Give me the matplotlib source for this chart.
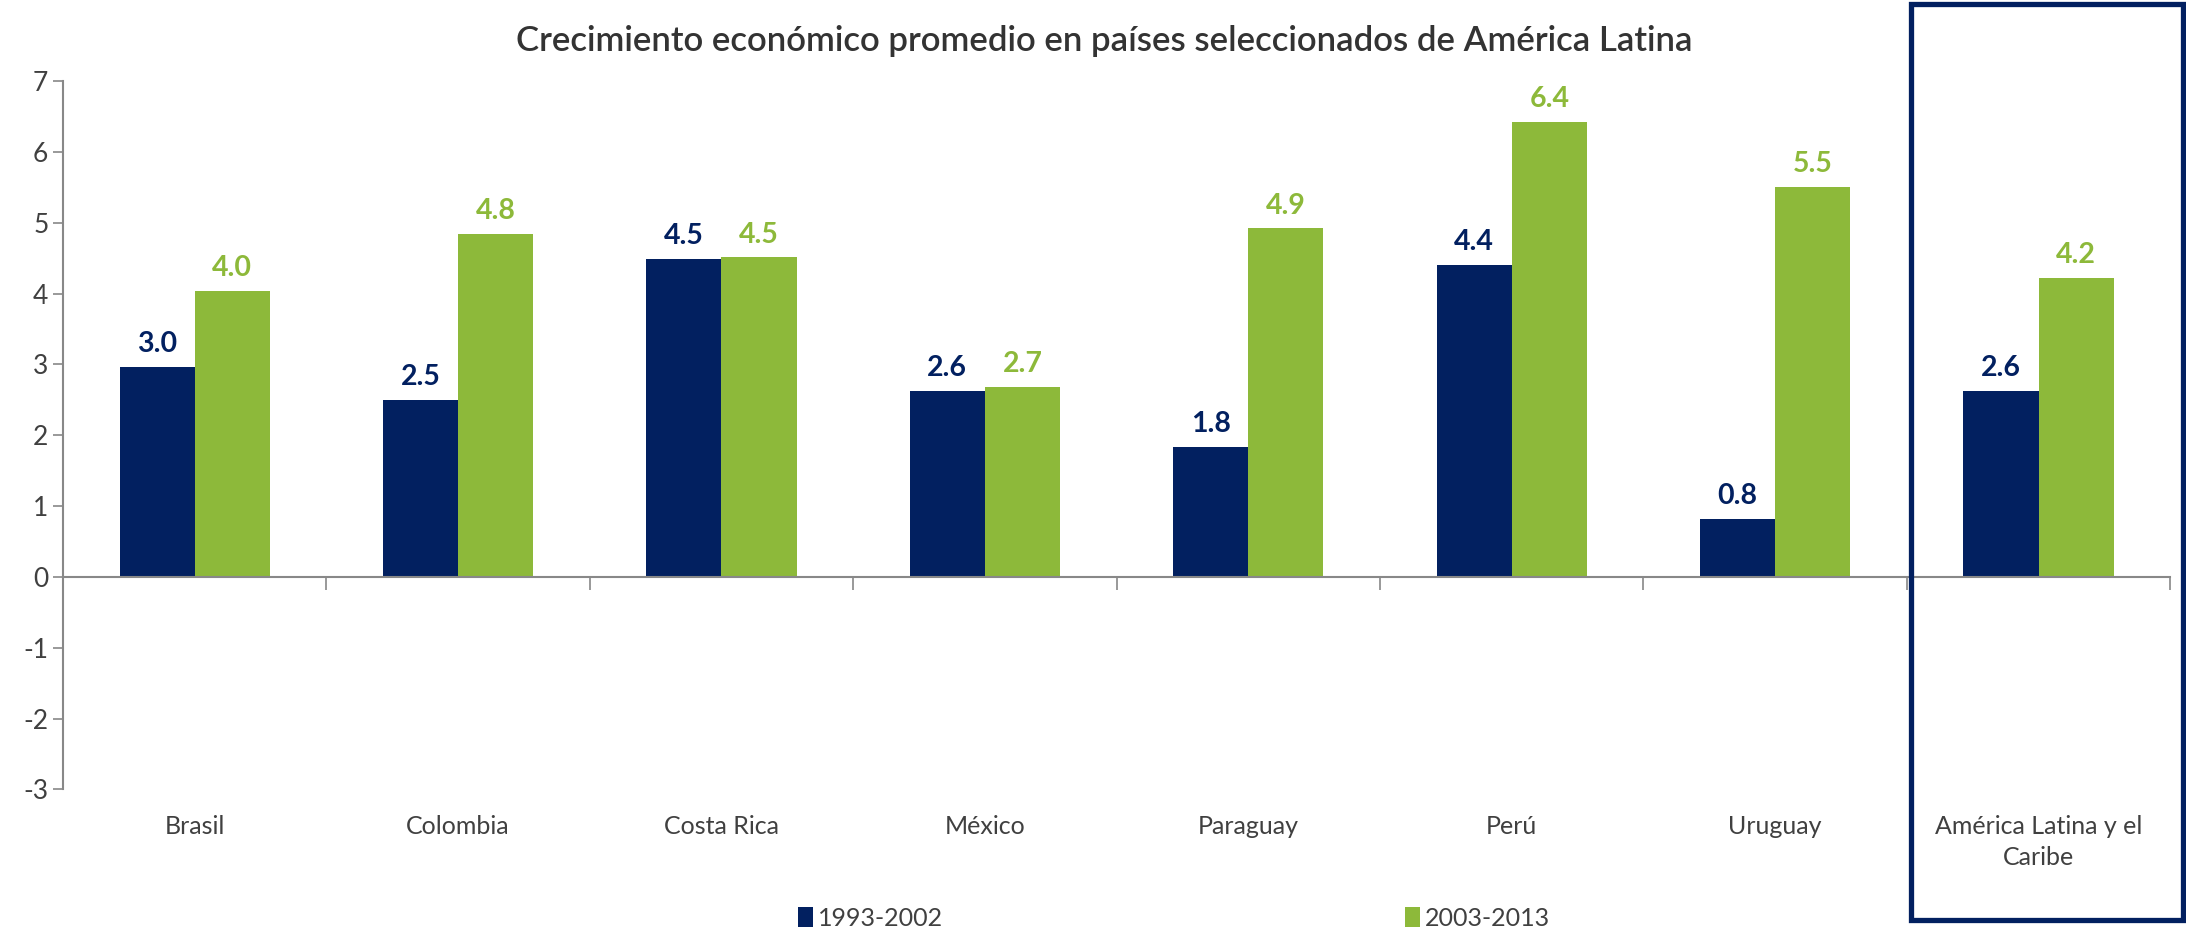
import numpy as np
import matplotlib.pyplot as plt
from matplotlib.patches import Rectangle

# data
paises = ['Brasil', 'Colombia', 'Costa Rica', 'México', 'Paraguay', 'Perú',
          'Uruguay', 'América Latina y el\nCaribe']
periodo_1 = [2.97, 2.50, 4.49, 2.63, 1.84, 4.41, 0.82, 2.63]
periodo_2 = [4.04, 4.84, 4.51, 2.68, 4.92, 6.43, 5.51, 4.22]
series = ['1993-2002', '2003-2013']
y_ticks = [-3, -2, -1, 0, 1, 2, 3, 4, 5, 6, 7]

azul = '#022060'
verde = '#8DB93A'
gris = '#404040'

plt.rcParams['font.family'] = ['Lato', 'DejaVu Sans']

fig = plt.figure(figsize=(21.86, 9.33), dpi=100)
ax = fig.add_axes([0.0288, 0.154, 0.964, 0.759])

x = np.arange(len(paises))
w = 0.285
b1 = ax.bar(x - w / 2, periodo_1, w, color=azul, label=series[0])
b2 = ax.bar(x + w / 2, periodo_2, w, color=verde, label=series[1])

for bars, col in [(b1, azul), (b2, verde)]:
    for r in bars:
        ax.annotate('%.1f' % r.get_height(), (r.get_x() + r.get_width() / 2, r.get_height()),
                    xytext=(0, 7), textcoords='offset points', ha='center', va='bottom',
                    fontsize=20.5, fontweight='bold', color=col)

ax.set_xlim(-0.5, len(paises) - 0.5)
ax.set_ylim(-3, 7)
ax.set_yticks(y_ticks)
ax.set_yticklabels([str(t) for t in y_ticks])
ax.tick_params(axis='y', labelsize=19, labelcolor=gris, color='#888888', length=7, width=1.2)

# category separators on the zero line
ax.spines['bottom'].set_position(('data', 0))
ax.set_xticks(np.arange(len(paises) + 1) - 0.5)
ax.set_xticklabels([])
ax.tick_params(axis='x', color='#888888', length=9, width=1.2)
for s in ['top', 'right']:
    ax.spines[s].set_visible(False)
for s in ['left', 'bottom']:
    ax.spines[s].set_color('#888888')
    ax.spines[s].set_linewidth(1.5)

for i, p in enumerate(paises):
    ax.text(i, -3.36, p, ha='center', va='top', fontsize=18, color=gris,
            linespacing=1.45, clip_on=False)

ax.set_title('Crecimiento económico promedio en países seleccionados de América Latina',
             fontsize=25, color='#333333', pad=22, x=0.494, fontweight='semibold')

fig.legend(handles=[b1, b2], labels=series, loc='center', bbox_to_anchor=(0.537, 0.016),
           ncol=2, frameon=False, fontsize=18, handlelength=0.6, handleheight=0.9,
           handletextpad=0.2, columnspacing=18.5, labelcolor=gris)

# box around the regional aggregate
fig.patches.append(Rectangle((0.874, 0.014), 0.1245, 0.982, transform=fig.transFigure,
                             fill=False, edgecolor=azul, linewidth=3.8))

fig.savefig('out.png', dpi=100)
